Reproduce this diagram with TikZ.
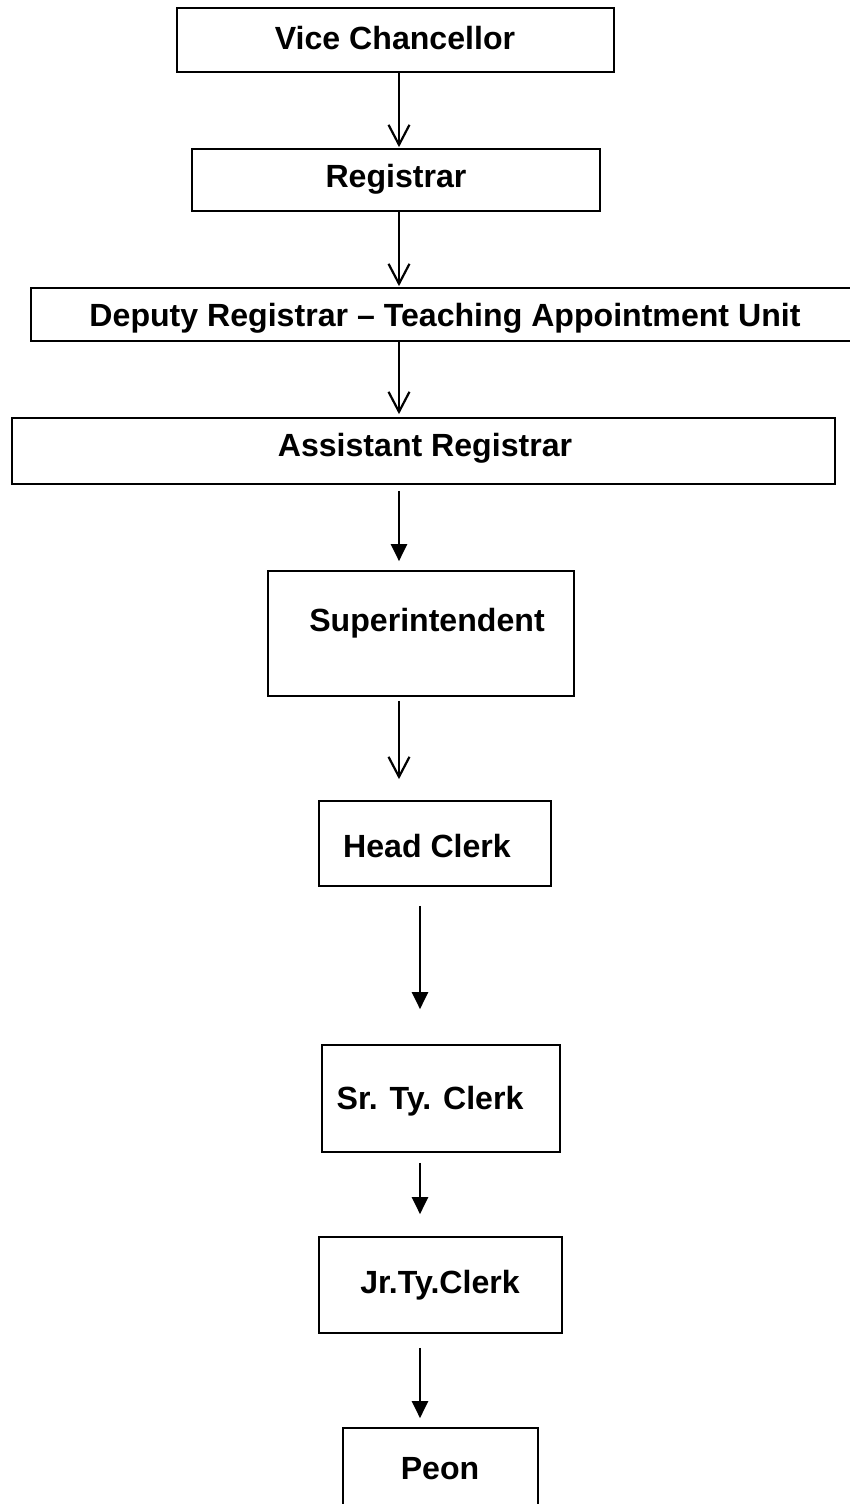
\documentclass[tikz,border=0pt]{standalone}
\usepackage{fontspec}
\setmainfont{Liberation Sans}
\usepackage{tikz}
\usetikzlibrary{arrows.meta}
\tikzstyle{orgbox}=[draw,line width=1.7pt,inner sep=0pt]
\tikzstyle{orgtext}=[inner sep=0pt,font=\fontsize{32.1}{36}\selectfont\bfseries]
\tikzstyle{openarrow}=[line width=2.2pt,-{Straight Barb[length=20pt,width=21pt,line width=2.2pt]}]
\tikzstyle{fillarrow}=[line width=2.4pt,-{Triangle[length=17pt,width=16pt]}]

\begin{document}
\begin{tikzpicture}[x=1pt,y=-1pt]
\useasboundingbox (0,0) rectangle (849,1504);
\coordinate (colA) at (399,0);
\coordinate (colB) at (420,0);
% boxes
\node [orgbox,minimum width=437,minimum height=64] (vc) at (395.5,40) {};
\node [orgbox,minimum width=408,minimum height=62] (reg) at (396,180) {};
\node [orgbox,minimum width=829,minimum height=53] (dr) at (445.5,314.5) {};
\node [orgbox,minimum width=823,minimum height=66] (ar) at (423.5,451) {};
\node [orgbox,minimum width=306,minimum height=125] (sup) at (421,633.5) {};
\node [orgbox,minimum width=232,minimum height=85] (hc) at (435,843.5) {};
\node [orgbox,minimum width=238,minimum height=107] (sr) at (441,1098.5) {};
\node [orgbox,minimum width=243,minimum height=96] (jr) at (440.5,1285) {};
\node [orgbox,minimum width=195,minimum height=92] (peon) at (440.5,1474) {};
% labels
\node [orgtext] (vctext) at (395,38) {Vice Chancellor};
\node [orgtext] (regtext) at (396,179) {Registrar};
\node [orgtext] (drtext) at (445,318) {Deputy Registrar -- Teaching Appointment Unit};
\node [orgtext] (artext) at (425,448) {Assistant Registrar};
\node [orgtext] (suptext) at (427,623) {Superintendent};
\node [orgtext] (hctext) at (427,846) {Head Clerk};
\node [orgtext] (srtext) at (430,1101) {Sr. Ty. Clerk};
\node [orgtext] (jrtext) at (440,1285) {Jr.Ty.Clerk};
\node [orgtext] (peontext) at (440,1469) {Peon};
% connectors
\draw [openarrow,shorten >=1] (vc.south -| colA) -- (reg.north -| colA);
\draw [openarrow,shorten >=1] (reg.south -| colA) -- (dr.north -| colA);
\draw [openarrow,shorten >=3] (dr.south -| colA) -- (ar.north -| colA);
\draw [fillarrow,shorten <=6,shorten >=9] (ar.south -| colA) -- (sup.north -| colA);
\draw [openarrow,shorten <=4,shorten >=21] (sup.south -| colA) -- (hc.north -| colA);
\draw [fillarrow,shorten <=19,shorten >=35] (hc.south -| colB) -- (sr.north -| colB);
\draw [fillarrow,shorten <=10,shorten >=22] (sr.south -| colB) -- (jr.north -| colB);
\draw [fillarrow,shorten <=14,shorten >=9] (jr.south -| colB) -- (peon.north -| colB);
\end{tikzpicture}
\end{document}
